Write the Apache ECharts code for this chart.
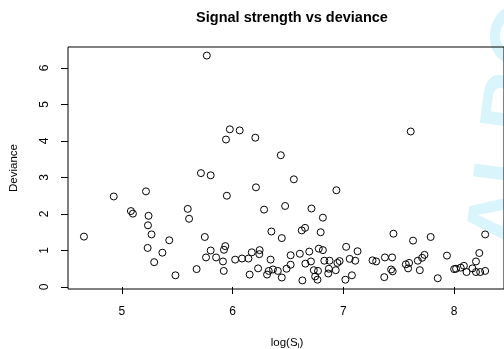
<!DOCTYPE html>
<html>
<head>
<meta charset="utf-8">
<script src="https://cdn.jsdelivr.net/npm/echarts@6/dist/echarts.min.js"></script>
<style>
html,body{margin:0;padding:0;background:#fff;}
#c{width:504px;height:349px;}
</style>
</head>
<body>
<div id="c"></div>
<script>
var logS = [4.658,4.927,5.082,5.100,5.218,5.241,5.236,5.268,5.233,5.292,5.366,5.428,5.484,5.595,5.607,5.675,5.714,5.749,5.760,5.767,
5.802,5.802,5.851,5.913,5.920,5.922,5.934,5.940,5.948,5.975,6.023,6.064,6.085,6.143,6.154,6.173,6.205,6.211,6.230,6.241,
6.244,6.284,6.311,6.326,6.343,6.350,6.364,6.408,6.435,6.444,6.444,6.474,6.487,6.524,6.524,6.553,6.607,6.624,6.630,6.654,
6.657,6.692,6.707,6.712,6.733,6.745,6.766,6.771,6.778,6.795,6.815,6.815,6.828,6.863,6.869,6.875,6.931,6.937,6.946,6.966,
7.018,7.025,7.057,7.077,7.107,7.128,7.263,7.296,7.369,7.375,7.431,7.440,7.445,7.452,7.564,7.584,7.593,7.608,7.629,7.672,
7.690,7.711,7.732,7.788,7.852,7.935,8.000,8.017,8.059,8.088,8.112,8.165,8.197,8.197,8.227,8.235,8.280,8.280];
var deviance = [1.38,2.48,2.08,2.01,2.62,1.95,1.69,1.44,1.07,0.68,0.94,1.28,0.32,2.14,1.87,0.49,3.12,1.37,0.81,6.34,
3.06,1.00,0.81,0.70,0.44,1.02,1.12,4.04,2.50,4.32,0.75,4.29,0.78,0.78,0.34,0.95,4.09,2.73,0.51,0.90,
1.01,2.12,0.34,0.44,0.75,1.52,0.48,0.44,3.61,1.34,0.26,2.22,0.50,0.87,0.61,2.95,0.91,1.55,0.18,1.62,
0.64,0.97,0.70,2.15,0.46,0.29,0.20,0.44,1.05,1.50,1.90,1.01,0.72,0.37,0.50,0.72,0.46,2.65,0.66,0.71,
0.20,1.10,0.77,0.32,0.72,0.98,0.73,0.70,0.27,0.81,0.48,0.81,0.43,1.46,0.62,0.51,0.66,4.26,1.27,0.72,
0.46,0.80,0.88,1.37,0.24,0.86,0.49,0.50,0.53,0.58,0.41,0.51,0.70,0.41,0.93,0.41,1.44,0.44];
var xTicks = [5,6,7,8];
var yTicks = [0,1,2,3,4,5,6];
var titleText = 'Signal strength vs deviance';
var yName = 'Deviance';
var watermark = 'ALBO';

var pts = logS.map(function(v,i){return [v, deviance[i]];});
var FONT = '"Liberation Sans", Arial, sans-serif';
var chart = echarts.init(document.getElementById('c'), null, {renderer:'canvas'});
chart.setOption({
  animation:false,
  backgroundColor:'#fff',
  title:{text:titleText, left:287, top:5, textAlign:'center',
    textStyle:{fontFamily:FONT, fontSize:14.5, fontWeight:'bold', color:'#000'}},
  graphic:[
    {type:'text', z:-10, zlevel:0, x:516, y:126, rotation:Math.PI/2*0.92,
      style:{text:watermark, fill:'#d9f4fb', font:'bold 88px "Liberation Sans", Arial, sans-serif',
        textAlign:'center', textVerticalAlign:'middle'}},
    {type:'text', x:287, y:336,
      style:{text:'log(S{s|i})', fill:'#000', textAlign:'center',
        font:'11.5px "Liberation Sans", Arial, sans-serif',
        rich:{s:{fontSize:8, padding:[6,0,0,0], fontFamily:FONT}}}}
  ],
  grid:{left:65, top:47, right:-6, bottom:60, show:true, borderColor:'#000', borderWidth:1, backgroundColor:'transparent'},
  xAxis:{type:'value', min:4.514, max:8.45,
    axisLine:{show:false},
    splitLine:{show:false},
    axisTick:{show:true, length:7, customValues:xTicks, lineStyle:{color:'#000'}},
    axisLabel:{customValues:xTicks, margin:17, color:'#000', fontFamily:FONT, fontSize:12}},
  yAxis:{type:'value', min:-0.055, max:6.575,
    name:yName, nameLocation:'middle', nameGap:48, nameRotate:90,
    nameTextStyle:{color:'#000', fontFamily:FONT, fontSize:11.5},
    axisLine:{show:false},
    splitLine:{show:false},
    axisTick:{show:true, length:7, customValues:yTicks, lineStyle:{color:'#000'}},
    axisLabel:{customValues:yTicks, rotate:90, margin:17, color:'#000', fontFamily:FONT, fontSize:12}},
  series:[{type:'scatter', data:pts, symbol:'circle', symbolSize:7,
    itemStyle:{color:'rgba(0,0,0,0)', borderColor:'#000', borderWidth:1, opacity:1},
    emphasis:{disabled:true}}]
});
</script>
</body>
</html>
